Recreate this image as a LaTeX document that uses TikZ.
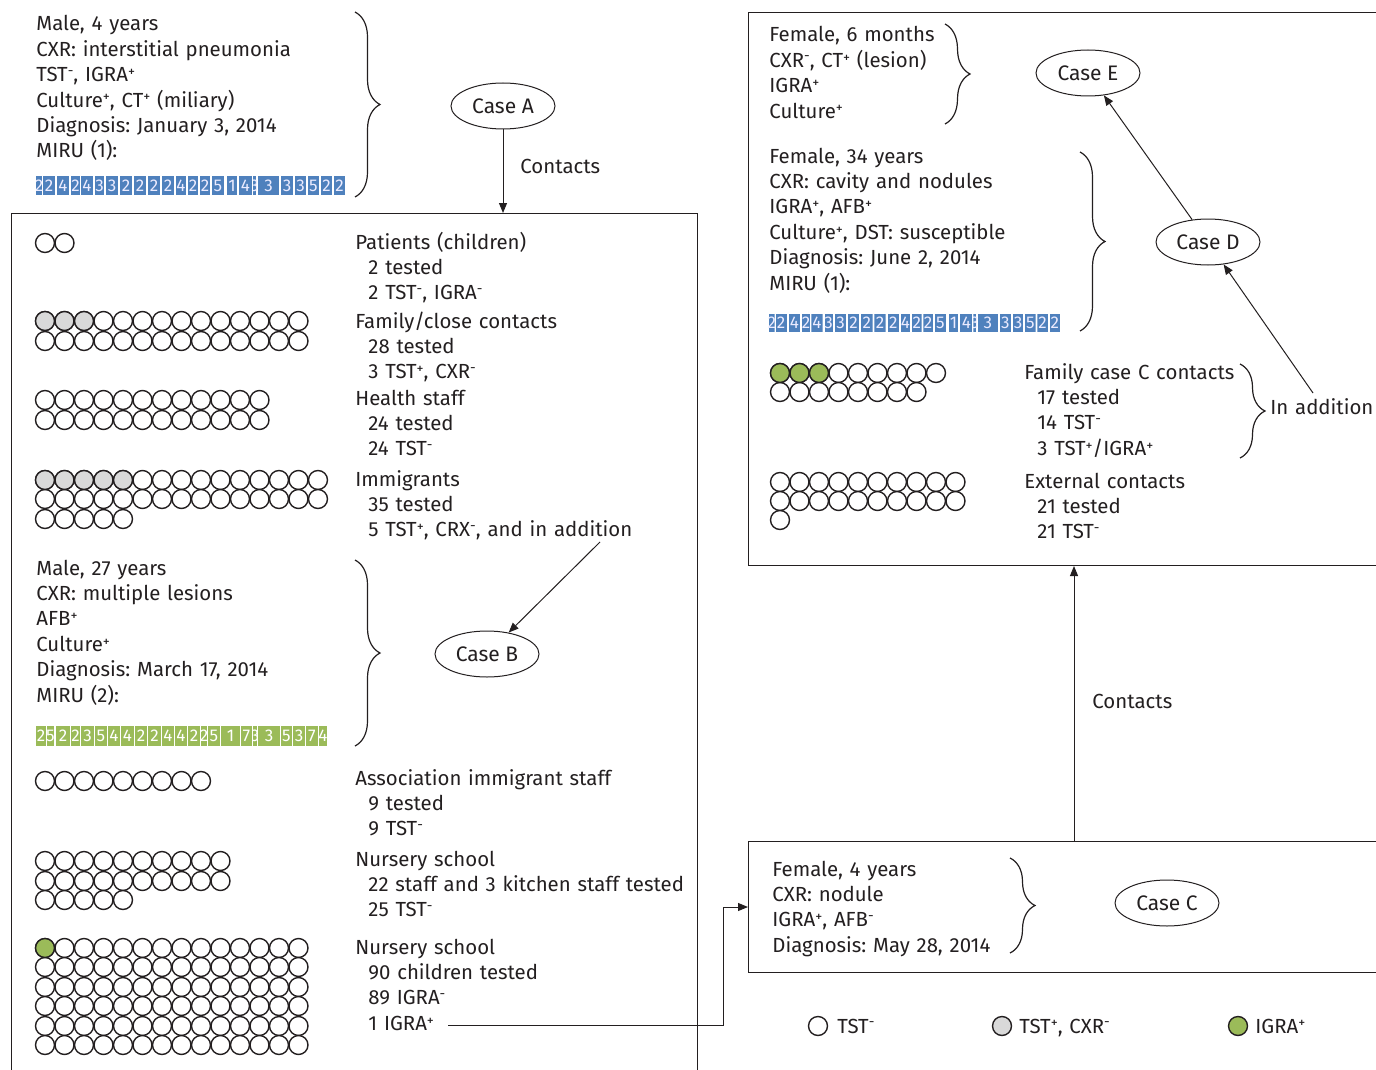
\documentclass[tikz,border=0pt]{standalone}
\usepackage{fontspec}
\setmainfont{Fira Sans}
\usetikzlibrary{shapes.geometric,arrows.meta,decorations.pathreplacing,positioning}
\definecolor{ink}{RGB}{35,31,32}
\definecolor{mirublue}{RGB}{79,129,189}
\definecolor{mirugreen}{RGB}{155,187,89}
\definecolor{tstgray}{RGB}{217,217,217}
\newcommand{\tpos}{\raisebox{2.6pt}{\fontsize{7}{7}\selectfont +}}
\newcommand{\tneg}{\raisebox{3.3pt}{\fontsize{7}{7}\selectfont -}}
\newcommand{\ind}{\hspace*{6.5pt}}
\frenchspacing
% MIRU cells: start/end/digit
\def\miruone{36/42/2, 43/55/2, 57/69/4, 71/80/2, 81/93/4, 95/104/3, 106/118/3, 120/132/2,
  134/146/2, 148/160/2, 162/174/2, 176/186/4, 188/198/2, 200/210/2, 212/224/5, 227/237/1,
  239/252/4, 253/256/3, 258/279/3, 281/293/3, 295/306/3, 308/319/5, 321/332/2, 334/345/2}
\def\mirutwo{36/46/2, 47/54/5, 56/70/2, 71/80/2, 81/94/3, 95/107/5, 108/120/4, 121/134/4,
  135/147/2, 148/161/2, 162/174/4, 175/187/4, 188/200/2, 201/207/2, 208/220/5, 221/240/1,
  241/252/7, 253/257/3, 258/280/3, 281/292/5, 293/305/3, 306/318/7, 319/327/4}

\begin{document}
\begin{tikzpicture}[
    x=0.5pt, y=-0.5pt,
    every node/.style={text=ink},
    txt/.style={anchor=base west, inner sep=0pt, align=left, text width=200pt,
                font=\fontsize{10.2}{12.7}\selectfont},
    case/.style={ellipse, draw=ink, line width=.5pt, minimum width=52pt, minimum height=23pt,
                 inner sep=0pt, font=\fontsize{10.5}{11}\selectfont},
    box/.style={draw=ink, line width=.5pt, inner sep=0pt, anchor=north west},
    ring/.style={draw=ink, line width=.7pt, fill=white},
    brace/.style={draw=ink, line width=.6pt, decorate, decoration={brace, amplitude=12.5pt}},
    arrow/.style={draw=ink, line width=.5pt, -{Triangle[length=5pt, width=4pt]}},
    miru/.style={inner sep=0pt, font=\fontsize{8.5}{9}\selectfont},
  ]
  \useasboundingbox (0,0) rectangle (1376,1070);

  % boxes
  \node[box, minimum width=343pt, minimum height=440pt] (leftbox) at (11,213) {};
  \node[box, minimum width=321pt, minimum height=276.5pt] (rightbox) at (748,12) {};
  \node[box, minimum width=321pt, minimum height=65.5pt] (boxC) at (748,841) {};

  % case A
  \node[txt] (caseAinfo) at (36,31) {Male, 4 years\\ CXR: interstitial pneumonia\\ TST\tneg, IGRA\tpos\\
    Culture\tpos, CT\tpos{} (miliary)\\ Diagnosis: January 3, 2014\\ MIRU (1):};
  \draw[brace] (355,12) -- (355,197);
  \node[case] (caseA) at (503,106) {Case A};
  \draw[arrow] (caseA) -- (caseA |- leftbox.north);
  \node[txt] (contactsA) at (520,174) {Contacts};

  % contacts of case A
  \node[txt] (patients) at (355,249) {Patients (children)\\ \ind 2 tested\\ \ind 2 TST\tneg, IGRA\tneg};
  \node[txt] (family) at (355,328) {Family/close contacts\\ \ind 28 tested\\ \ind 3 TST\tpos, CXR\tneg};
  \node[txt] (health) at (355,405) {Health staff\\ \ind 24 tested\\ \ind 24 TST\tneg};
  \node[txt] (immig) at (355,486) {Immigrants\\ \ind 35 tested\\ \ind 5 TST\tpos, CRX\tneg, and in addition};
  \coordinate (addB) at (600,542);

  % case B
  \node[txt] (caseBinfo) at (36,575) {Male, 27 years\\ CXR: multiple lesions\\ AFB\tpos\\ Culture\tpos\\
    Diagnosis: March 17, 2014\\ MIRU (2):};
  \draw[brace] (355,560) -- (355,746);
  \node[case] (caseB) at (487,654) {Case B};
  \draw[arrow] (addB) -- (caseB);

  \node[txt] (assoc) at (355,785) {Association immigrant staff\\ \ind 9 tested\\ \ind 9 TST\tneg};
  \node[txt] (nursA) at (355,866) {Nursery school\\ \ind 22 staff and 3 kitchen staff tested\\ \ind 25 TST\tneg};
  \node[txt] (nursB) at (355,954) {Nursery school\\ \ind 90 children tested\\ \ind 89 IGRA\tneg\\ \ind 1 IGRA\tpos};
  \coordinate (igra) at (448,1025);
  \coordinate (bend) at (723,1025);
  \draw[arrow] (igra) -- (bend) |- (boxC.west);

  % case C
  \node[txt] (caseCinfo) at (772,876) {Female, 4 years\\ CXR: nodule\\ IGRA\tpos, AFB\tneg\\ Diagnosis: May 28, 2014};
  \draw[brace] (1010,858) -- (1010,953);
  \node[case] (caseC) at (1167,903) {Case C};
  \coordinate (upC) at (1074,0);
  \draw[arrow] (upC |- boxC.north) -- (upC |- rightbox.south);
  \node[txt] (contactsC) at (1092,708) {Contacts};

  % cases D and E
  \node[txt] (caseEinfo) at (769,42) {Female, 6 months\\ CXR\tneg, CT\tpos{} (lesion)\\ IGRA\tpos\\ Culture\tpos};
  \draw[brace] (945,24) -- (945,124);
  \node[case] (caseE) at (1088,73) {Case E};
  \node[txt] (caseDinfo) at (769,163) {Female, 34 years\\ CXR: cavity and nodules\\ IGRA\tpos, AFB\tpos\\
    Culture\tpos, DST: susceptible\\ Diagnosis: June 2, 2014\\ MIRU (1):};
  \draw[brace] (1080,152) -- (1080,331);
  \node[case] (caseD) at (1208,242) {Case D};
  \draw[arrow] (caseD) -- (caseE);

  \node[txt] (famC) at (1024,379) {Family case C contacts\\ \ind 17 tested\\ \ind 14 TST\tneg\\ \ind 3 TST\tpos/IGRA\tpos};
  \draw[brace] (1240,364) -- (1240,458);
  \node[txt] (inadd) at (1270,414) {In addition};
  \coordinate (addD) at (1313,393);
  \draw[arrow] (addD) -- (caseD);
  \node[txt] (ext) at (1024,488) {External contacts\\ \ind 21 tested\\ \ind 21 TST\tneg};

  % circles, one per contact
  \foreach \y/\n in {243/1, 321/13, 341/13, 400/11, 420/11, 480/14, 499/14, 519/4, 781/8,
      861/9, 881/9, 900/4, 948/13, 967/13, 987/13, 1006/13, 1026/13, 1045/13}
    \foreach \i in {0,...,\n}
      \path[ring] ({45+19.5*\i},\y) circle[radius=9.5];
  \foreach \y/\n in {373/8, 392/7, 482/9, 501/9, 520/0}
    \foreach \i in {0,...,\n}
      \path[ring] ({780+19.5*\i},\y) circle[radius=9.5];
  \foreach \x/\y in {45/321, 64.5/321, 84/321, 45/480, 64.5/480, 84/480, 103.5/480, 123/480}
    \path[ring, fill=tstgray] (\x,\y) circle[radius=9.5];
  \foreach \x/\y in {45/948, 780/373, 799.5/373, 819/373}
    \path[ring, fill=mirugreen] (\x,\y) circle[radius=9.5];

  % MIRU patterns
  \foreach \a/\b/\d in \miruone {
    \begin{scope}
      \clip (\a,176) rectangle (\b,195);
      \fill[mirublue] (\a,176) rectangle (\b,195);
      \node[miru, text=blue!8] (mA\a) at ({(\a+\b)/2},185.5) {\d};
    \end{scope}
  }
  \foreach \a/\b/\d in \mirutwo {
    \begin{scope}
      \clip (\a,726) rectangle (\b,746);
      \fill[mirugreen] (\a,726) rectangle (\b,746);
      \node[miru, text=white] (mB\a) at ({(\a+\b)/2},736) {\d};
    \end{scope}
  }
  \begin{scope}[shift={(735,138)}, xscale=0.942]
    \foreach \a/\b/\d in \miruone {
      \begin{scope}
        \clip (\a,176) rectangle (\b,194);
        \fill[mirublue] (\a,176) rectangle (\b,194);
        \node[miru, text=blue!8] (mD\a) at ({(\a+\b)/2},185) {\d};
      \end{scope}
    }
  \end{scope}

  % legend
  \path[ring] (818,1026) circle[radius=9.5];
  \node[txt] (legA) at (837,1033) {TST\tneg};
  \path[ring, fill=tstgray] (1002,1026) circle[radius=9.5];
  \node[txt] (legB) at (1019,1033) {TST\tpos, CXR\tneg};
  \path[ring, fill=mirugreen] (1238,1026) circle[radius=9.5];
  \node[txt] (legC) at (1255,1033) {IGRA\tpos};
\end{tikzpicture}
\end{document}
